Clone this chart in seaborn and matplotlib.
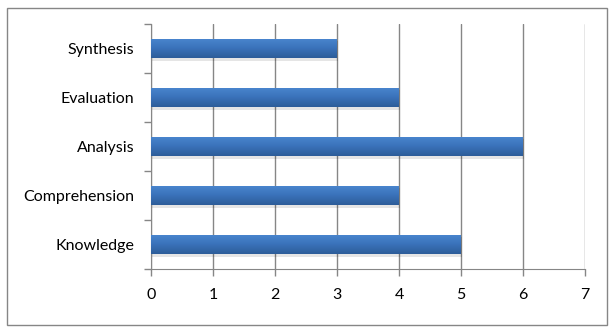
import matplotlib
matplotlib.use("Agg")
import matplotlib.pyplot as plt
import seaborn as sns
import numpy as np
import pandas as pd
from matplotlib.patches import Rectangle
from matplotlib.colors import LinearSegmentedColormap

categories = ["Synthesis", "Evaluation", "Analysis", "Comprehension", "Knowledge"]
values = [3, 4, 6, 4, 5]
x_ticks = [0, 1, 2, 3, 4, 5, 6, 7]

df = pd.DataFrame({"category": categories, "value": values})

sns.set_style("white")
plt.rcParams["font.family"] = ["Lato", "DejaVu Sans"]

fig = plt.figure(figsize=(6.12, 3.33), dpi=100)
ax = fig.add_axes([151/612, 1 - 269/333, 434/612, 245/333])

sns.barplot(data=df, y="category", x="value", orient="h", color="#3A70B8",
            width=0.40, ax=ax, zorder=3)

# gradient fill on bars (lighter on top, darker at bottom)
cmap = LinearSegmentedColormap.from_list("g", ["#4A86CF", "#3A72BA", "#2D5D99"])
grad = np.linspace(0, 1, 100).reshape(-1, 1)
for p in list(ax.patches):
    x0, y0 = p.get_x(), p.get_y()
    w, h = p.get_width(), p.get_height()
    sh = Rectangle((x0 + 0.02, y0 + 0.05), w, h, facecolor="#000000", alpha=0.10,
                   edgecolor="none", zorder=2)
    ax.add_patch(sh)
    im = ax.imshow(grad, extent=(x0, x0 + w, y0 + h, y0), aspect="auto",
                   cmap=cmap, zorder=4, origin="upper")
    im.set_clip_path(p)
    p.set_edgecolor("none")

ax.set_xlim(0, 7)
ax.set_ylim(4.5, -0.5)
ax.set_xticks(x_ticks)
ax.set_xticklabels([str(t) for t in x_ticks])
ax.set_yticks(range(len(categories)))
ax.set_yticklabels(categories)
ax.set_yticks([i + 0.5 for i in range(-1, len(categories))], minor=True)
ax.tick_params(axis="y", which="major", left=False, length=0, pad=12, labelsize=11.5, colors="black")
ax.tick_params(axis="y", which="minor", left=True, length=5, width=1, color="#868686", direction="out")
ax.tick_params(axis="x", which="major", bottom=True, length=5, width=1, color="#868686", pad=9,
               labelsize=11.5, labelcolor="black", direction="out")
ax.set_xlabel("")
ax.set_ylabel("")

ax.grid(axis="x", color="#868686", linewidth=1, zorder=1)
ax.set_axisbelow(True)
for s in ["top", "right"]:
    ax.spines[s].set_visible(False)
ax.spines["left"].set_color("#868686")
ax.spines["bottom"].set_color("#868686")

# figure border
fig.patches.append(Rectangle((7/612, 1 - 325/333), 600/612, 317/333, transform=fig.transFigure,
                             fill=False, edgecolor="#868686", linewidth=1))

fig.savefig("out.png", dpi=100)
